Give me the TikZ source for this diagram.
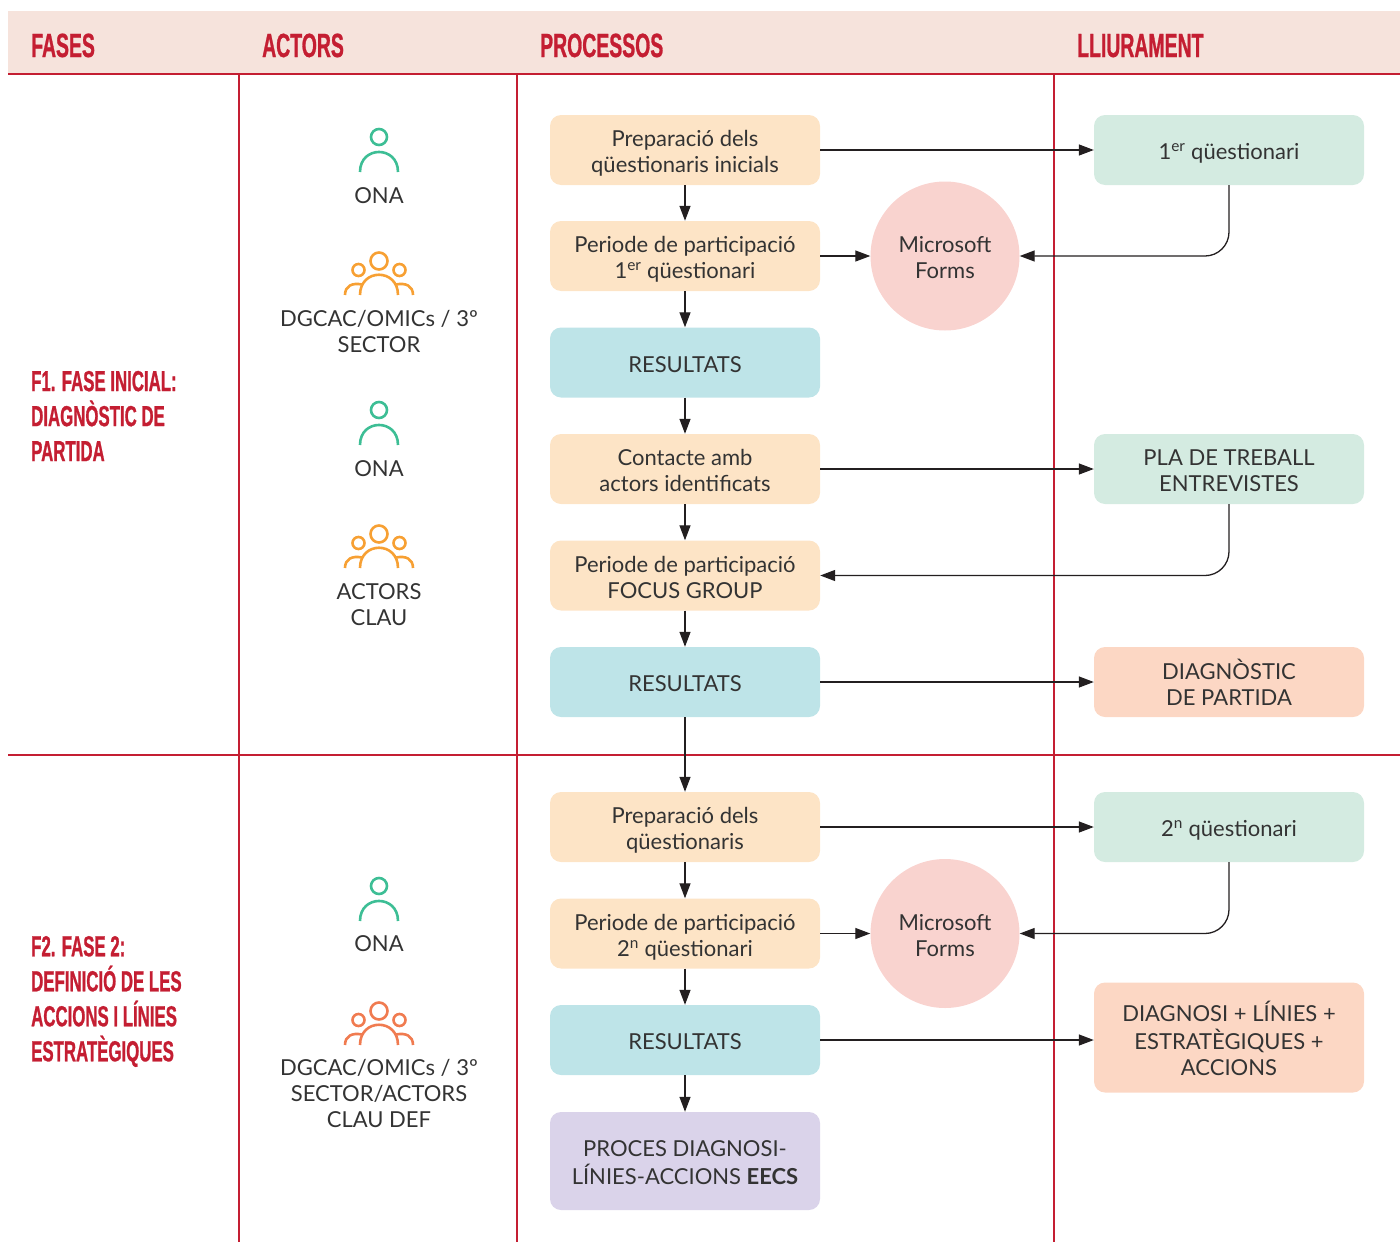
\documentclass[tikz,border=0pt]{standalone}
\usepackage{fontspec}
\setmainfont{Lato}
\newfontfamily\hfont[FakeStretch=0.58,FakeBold=0.8]{Liberation Sans}
\usetikzlibrary{arrows.meta}
\definecolor{hred}{HTML}{C41E32}
\definecolor{band}{HTML}{F6E3DC}
\definecolor{peach}{HTML}{FDE4C6}
\definecolor{cyanb}{HTML}{BEE4E8}
\definecolor{mint}{HTML}{D4EBE1}
\definecolor{salmon}{HTML}{FCD7C4}
\definecolor{lav}{HTML}{DAD3EA}
\definecolor{pinkc}{HTML}{F9D3CF}
\definecolor{txt}{HTML}{333333}
\definecolor{arrc}{HTML}{231F20}
\definecolor{pgreen}{HTML}{3DBE95}
\definecolor{porange}{HTML}{F7A033}
\definecolor{pcoral}{HTML}{F07B50}
\newcommand\tx[1]{\raisebox{-9.5pt}[0pt][0pt]{\begin{tabular}{@{}c@{}}#1\end{tabular}}}
\begin{document}
\begin{tikzpicture}[x=1pt,y=-1pt,
  body/.style={font=\fontsize{22pt}{26pt}\selectfont, text=txt, align=center, inner sep=0pt},
  boxtext/.style={font=\fontsize{22pt}{26pt}\selectfont, text=txt, inner sep=0pt},
  box/.style={boxtext, rounded corners=11pt, minimum width=270pt, minimum height=70pt},
  pbox/.style={box, fill=peach},
  rbox/.style={box, fill=cyanb},
  mbox/.style={box, fill=mint},
  sbox/.style={box, fill=salmon},
  forms/.style={boxtext, circle, fill=pinkc, minimum size=149pt},
  head/.style={font=\hfont\bfseries\fontsize{33.5pt}{36pt}\selectfont, text=hred, anchor=base west, inner sep=0pt},
  phase/.style={font=\hfont\bfseries\fontsize{29pt}{35pt}\selectfont, text=hred, anchor=west, align=left, inner sep=0pt},
  sep/.style={draw=hred, line width=2pt},
  arr/.style={draw=arrc, line width=1.3pt, -{Triangle[length=15pt,width=11pt]}},
  person/.pic={
    \draw[line width=2.6pt] (0,0) circle[radius=8pt];
    \draw[line width=2.6pt] (-19,35) .. controls (-19,8.3) and (19,8.3) .. (19,35);
  },
  group/.pic={
    \draw[line width=2.6pt] (0,0) circle[radius=8.5pt];
    \draw[line width=2.6pt] (-20.5,9) circle[radius=6pt];
    \draw[line width=2.6pt] (20.5,9) circle[radius=6pt];
    \draw[line width=2.6pt] (-19,34) .. controls (-19,7) and (19,7) .. (19,34);
    \draw[line width=2.6pt] (-34,34) .. controls (-34,25) and (-27,21.5) .. (-17,23.5);
    \draw[line width=2.6pt] (34,34) .. controls (34,25) and (27,21.5) .. (17,23.5);
  }
]
\useasboundingbox (0,0) rectangle (1400,1242);
% header band
\fill[band] (8,11) rectangle (1400,73);
\draw[hred, line width=2.5pt] (8,74) -- (1400,74);
\node[head] (hf) at (31,57) {FASES};
\node[head] (ha) at (262,57) {ACTORS};
\node[head] (hp) at (540,57) {PROCESSOS};
\node[head] (hl) at (1077,57) {LLIURAMENT};
% grid lines
\draw[sep] (239,75) -- (239,1242);
\draw[sep] (517,75) -- (517,1242);
\draw[sep] (1054,75) -- (1054,1242);
\draw[sep] (8,755) -- (1400,755);
% phases
\node[phase] (f1) at (31,416) {F1. FASE INICIAL:\\DIAGNÒSTIC DE\\PARTIDA};
\node[phase] (f2) at (31,1001.5) {F2. FASE 2:\\DEFINICIÓ DE LES\\ACCIONS I LÍNIES\\ESTRATÈGIQUES};
% actors
\pic[color=pgreen] at (379,137) {person};
\node[body] (a1) at (379,196) {ONA};
\pic[color=porange] at (379,261) {group};
\node[body] (a2) at (379,331) {DGCAC/OMICs / 3º\\SECTOR};
\pic[color=pgreen] at (379,410) {person};
\node[body] (a3) at (379,469) {ONA};
\pic[color=porange] at (379,534) {group};
\node[body] (a4) at (379,604.5) {ACTORS\\CLAU};
\pic[color=pgreen] at (379,886) {person};
\node[body] (a5) at (379,944) {ONA};
\pic[color=pcoral] at (379,1011) {group};
\node[body] (a6) at (379,1093) {DGCAC/OMICs / 3º\\SECTOR/ACTORS\\CLAU DEF};
% processes
\node[pbox] (b1) at (685,150) {\tx{Preparació dels\\qüestionaris inicials}};
\node[pbox] (b2) at (685,256) {\tx{Periode de participació\\1\textsuperscript{er} qüestionari}};
\node[rbox] (b3) at (685,362.5) {\tx{RESULTATS}};
\node[pbox] (b4) at (685,469) {\tx{Contacte amb\\actors identificats}};
\node[pbox] (b5) at (685,575.5) {\tx{Periode de participació\\FOCUS GROUP}};
\node[rbox] (b6) at (685,682) {\tx{RESULTATS}};
\node[pbox] (b7) at (685,827) {\tx{Preparació dels\\qüestionaris}};
\node[pbox] (b8) at (685,933.5) {\tx{Periode de participació\\2\textsuperscript{n} qüestionari}};
\node[rbox] (b9) at (685,1040) {\tx{RESULTATS}};
\node[box, fill=lav, minimum height=98pt] (b10) at (685,1161) {\tx{PROCES DIAGNOSI-\\LÍNIES-ACCIONS \textbf{EECS}}};
% forms
\node[forms] (mf1) at (945,256) {\tx{Microsoft\\Forms}};
\node[forms] (mf2) at (945,933.5) {\tx{Microsoft\\Forms}};
% deliverables
\node[mbox] (l1) at (1229,150) {\tx{1\textsuperscript{er} qüestionari}};
\node[mbox] (l2) at (1229,469) {\tx{PLA DE TREBALL\\ENTREVISTES}};
\node[sbox] (l3) at (1229,682) {\tx{DIAGNÒSTIC\\DE PARTIDA}};
\node[mbox] (l4) at (1229,827) {\tx{2\textsuperscript{n} qüestionari}};
\node[sbox, minimum height=110pt] (l5) at (1229,1037.5) {\tx{DIAGNOSI + LÍNIES +\\ESTRATÈGIQUES +\\ACCIONS}};
% connectors
\draw[arr] (b1) -- (b2);
\draw[arr] (b2) -- (b3);
\draw[arr] (b3) -- (b4);
\draw[arr] (b4) -- (b5);
\draw[arr] (b5) -- (b6);
\draw[arr] (b6) -- (b7);
\draw[arr] (b7) -- (b8);
\draw[arr] (b8) -- (b9);
\draw[arr] (b9) -- (b10);
\draw[arr] (b1) -- (l1);
\draw[arr] (b2) -- (mf1);
\draw[arr, rounded corners=24pt] (l1.south) |- (mf1.east);
\draw[arr] (b4) -- (l2);
\draw[arr, rounded corners=24pt] (l2.south) |- (b5.east);
\draw[arr] (b6) -- (l3);
\draw[arr] (b7) -- (l4);
\draw[arr] (b8) -- (mf2);
\draw[arr, rounded corners=24pt] (l4.south) |- (mf2.east);
\draw[arr] (b9.east) -- (b9.east -| l5.west);
\end{tikzpicture}
\end{document}
